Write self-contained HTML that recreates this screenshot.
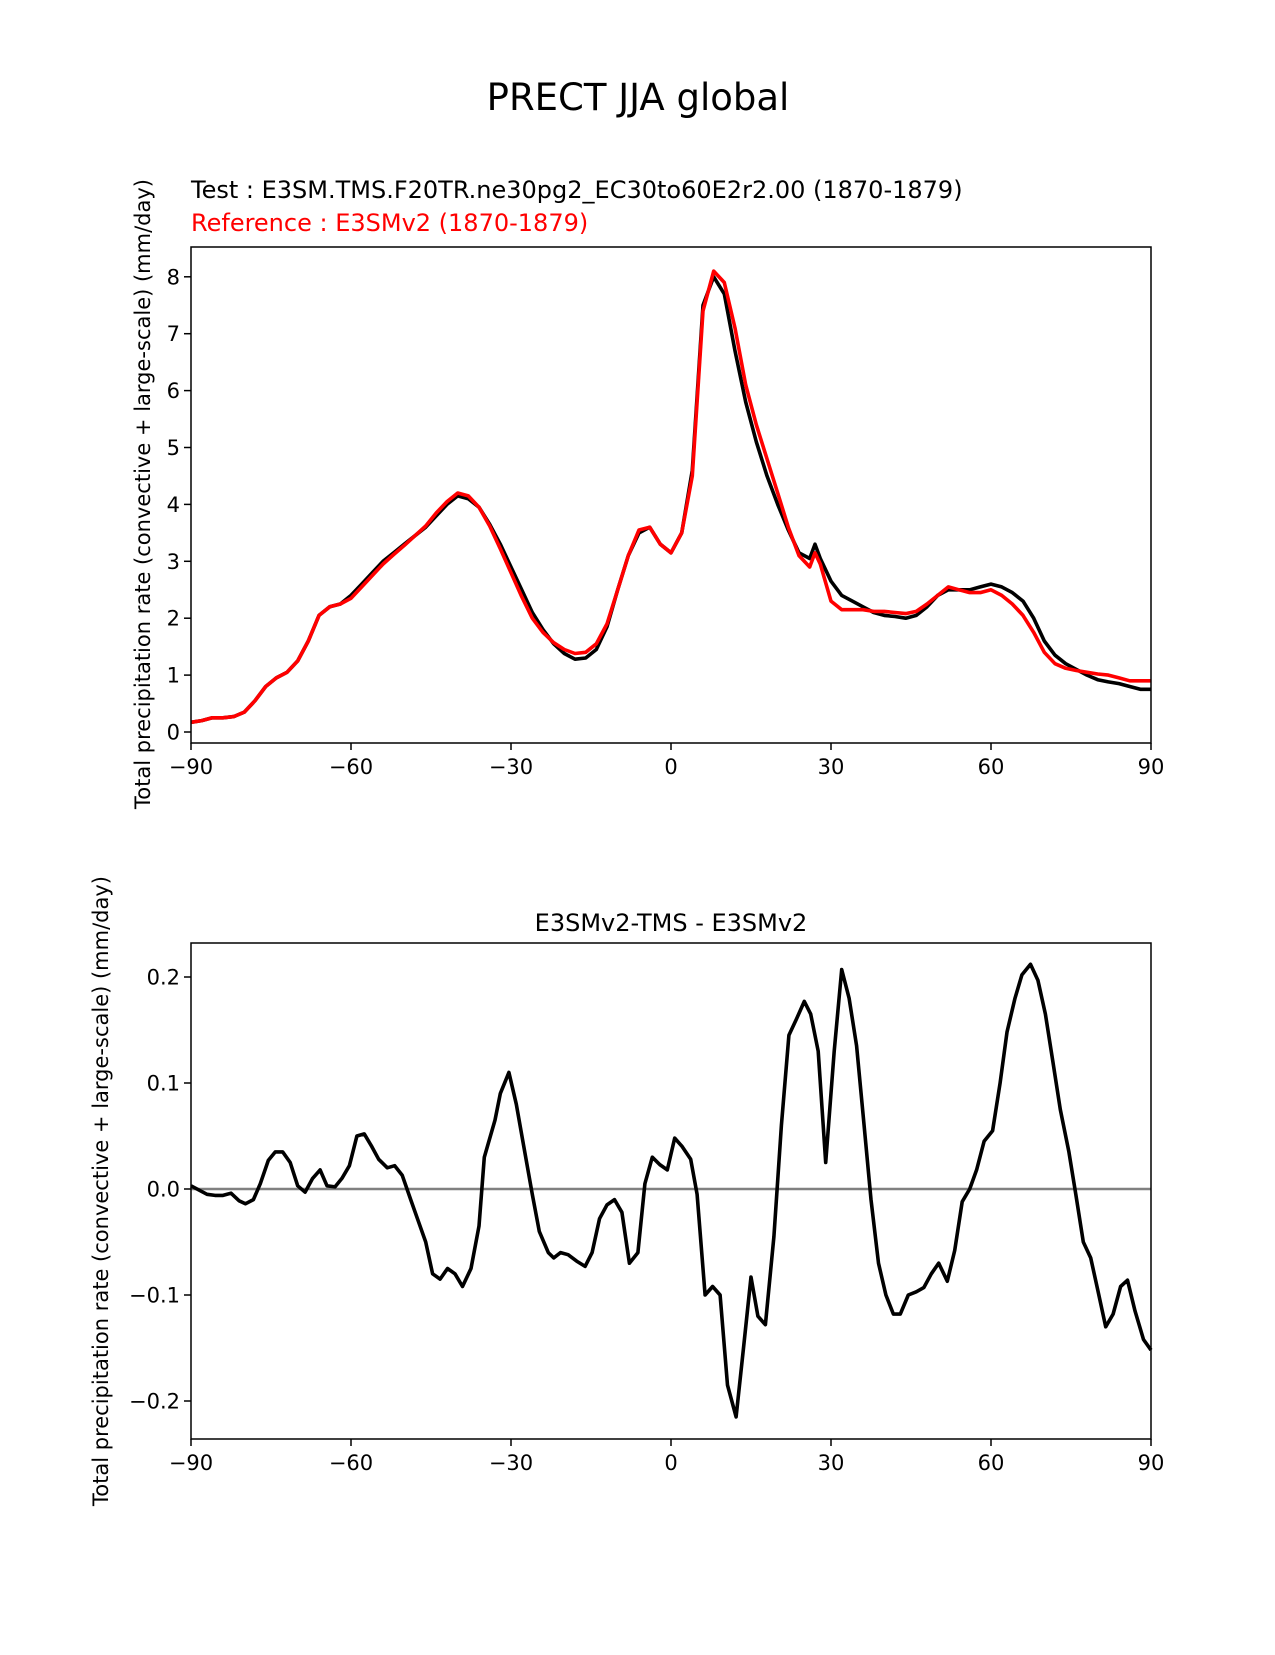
<!DOCTYPE html>
<html><head><meta charset="utf-8"><style>
body{margin:0;background:#fff}
svg text{font-family:"DejaVu Sans","Liberation Sans",sans-serif}
</style></head><body>
<svg id="fig" width="1275" height="1650" xmlns="http://www.w3.org/2000/svg">
<rect width="1275" height="1650" fill="#fff"/>
<text x="638" y="110" font-size="37" text-anchor="middle">PRECT JJA global</text>
<text x="191" y="198" font-size="24">Test : E3SM.TMS.F20TR.ne30pg2_EC30to60E2r2.00 (1870-1879)</text>
<text x="191" y="231" font-size="24" fill="red">Reference : E3SMv2 (1870-1879)</text>
<text transform="translate(150,494) rotate(-90)" font-size="21" text-anchor="middle">Total precipitation rate (convective + large-scale) (mm/day)</text>
<text x="671" y="931" font-size="24" text-anchor="middle">E3SMv2-TMS - E3SMv2</text>
<text transform="translate(108,1191) rotate(-90)" font-size="21" text-anchor="middle">Total precipitation rate (convective + large-scale) (mm/day)</text>
<g id="top"></g>
<g id="bot"></g>
</svg>
<script>
const xTicks=[-90,-60,-30,0,30,60,90];
const topYTicks=[0,1,2,3,4,5,6,7,8];
const botYTicks=[-0.2,-0.1,0.0,0.1,0.2];
const botYTickLabels=["\u22120.2","\u22120.1","0.0","0.1","0.2"];
const topLat=[-90,-88,-86,-84,-82,-80,-78,-76,-74,-72,-70,-68,-66,-64,-62,-60,-58,-56,-54,-52,-50,-48,-46,-44,-42,-40,-38,-36,-34,-32,-30,-28,-26,-24,-22,-20,-18,-16,-14,-12,-10,-8,-6,-4,-2,0,2,4,6,8,10,12,14,16,18,20,22,24,26,27,28,30,32,34,36,38,40,42,44,46,48,50,52,54,56,58,60,62,64,66,68,70,72,74,76,78,80,82,84,86,88,90];
const testVals=[0.17,0.2,0.25,0.25,0.27,0.35,0.55,0.8,0.95,1.05,1.25,1.6,2.05,2.2,2.25,2.4,2.6,2.8,3.0,3.15,3.3,3.45,3.6,3.8,4.0,4.15,4.1,3.95,3.65,3.3,2.9,2.5,2.1,1.8,1.55,1.38,1.28,1.3,1.45,1.85,2.5,3.1,3.5,3.6,3.3,3.15,3.5,4.6,7.5,8.0,7.7,6.7,5.8,5.1,4.5,4.0,3.55,3.15,3.05,3.3,3.05,2.65,2.4,2.3,2.2,2.1,2.05,2.03,2.0,2.05,2.2,2.4,2.5,2.5,2.5,2.55,2.6,2.55,2.45,2.3,2.0,1.6,1.35,1.2,1.1,1.0,0.92,0.88,0.85,0.8,0.75,0.75];
const refVals=[0.17,0.2,0.25,0.25,0.27,0.35,0.55,0.8,0.95,1.05,1.25,1.6,2.05,2.2,2.25,2.35,2.55,2.75,2.95,3.12,3.28,3.45,3.62,3.85,4.05,4.2,4.15,3.95,3.62,3.22,2.8,2.38,2.0,1.75,1.57,1.45,1.38,1.4,1.55,1.9,2.5,3.1,3.55,3.6,3.3,3.15,3.5,4.5,7.4,8.1,7.9,7.1,6.1,5.4,4.8,4.2,3.6,3.1,2.9,3.15,2.95,2.3,2.15,2.15,2.15,2.12,2.12,2.1,2.08,2.12,2.25,2.4,2.55,2.5,2.45,2.45,2.5,2.4,2.25,2.05,1.75,1.4,1.2,1.12,1.08,1.05,1.02,1.0,0.95,0.9,0.9,0.9];
const diffLat=[-90,-88.5,-87,-85.5,-84,-82.5,-81,-79.8,-78.3,-77,-75.5,-74.2,-72.8,-71.4,-70,-68.6,-67.2,-65.8,-64.5,-63,-61.7,-60.3,-58.9,-57.5,-56.1,-54.8,-53.2,-51.8,-50.4,-48.8,-47.4,-46,-44.7,-43.3,-41.9,-40.5,-39.1,-37.5,-36,-35,-33,-32,-30.4,-29,-27.6,-26,-24.7,-23,-22,-20.7,-19.3,-17.7,-16.1,-14.8,-13.4,-12,-10.6,-9.2,-7.8,-6.2,-4.9,-3.5,-2.1,-0.7,0.7,2.1,3.7,4.9,6.4,7.8,9.2,10.6,12.2,13.6,15,16.3,17.7,19.3,20.7,22.1,23.5,25,26.2,27.6,29,30.6,32,33.4,34.8,36.2,37.5,38.9,40.3,41.7,43,44.5,46,47.4,48.8,50.2,51.8,53.2,54.6,56,57.3,58.7,60.3,61.7,63,64.5,65.8,67.4,68.8,70.2,71.6,73,74.6,75.9,77.3,78.7,80,81.5,82.9,84.3,85.6,87,88.6,90];
const diffVals=[0.003,-0.001,-0.005,-0.006,-0.006,-0.004,-0.011,-0.014,-0.01,0.005,0.027,0.035,0.035,0.025,0.003,-0.003,0.01,0.018,0.003,0.002,0.01,0.022,0.05,0.052,0.04,0.028,0.02,0.022,0.013,-0.01,-0.03,-0.05,-0.08,-0.085,-0.075,-0.08,-0.092,-0.075,-0.035,0.03,0.065,0.09,0.11,0.08,0.04,-0.005,-0.04,-0.06,-0.065,-0.06,-0.062,-0.068,-0.073,-0.06,-0.028,-0.015,-0.01,-0.022,-0.07,-0.06,0.005,0.03,0.023,0.018,0.048,0.04,0.028,-0.005,-0.1,-0.092,-0.1,-0.185,-0.215,-0.15,-0.083,-0.12,-0.128,-0.045,0.06,0.145,0.16,0.177,0.165,0.13,0.025,0.13,0.207,0.18,0.135,0.06,-0.01,-0.07,-0.1,-0.118,-0.118,-0.1,-0.097,-0.093,-0.08,-0.07,-0.087,-0.058,-0.012,0.0,0.018,0.045,0.055,0.1,0.148,0.18,0.202,0.212,0.197,0.165,0.12,0.075,0.035,-0.005,-0.05,-0.065,-0.095,-0.13,-0.118,-0.092,-0.086,-0.115,-0.142,-0.152];

const NS="http://www.w3.org/2000/svg";
const X0=191,X1=1151;
const xs=v=>X0+(v+90)/180*(X1-X0);
const topY=v=>732-v*56.9;
const botY=v=>1189-v*1060;
function mk(tag,attrs,parent){const e=document.createElementNS(NS,tag);for(const k in attrs)e.setAttribute(k,attrs[k]);parent.appendChild(e);return e;}
function path(lat,vals,ys){return lat.map((l,i)=>(i?'L':'M')+xs(l).toFixed(1)+','+ys(vals[i]).toFixed(1)).join('');}
function axes(g,top,bot,yTicks,yLabels,ys){
  xTicks.forEach(t=>{
    const l=mk('line',{x1:xs(t),x2:xs(t),y1:bot,y2:bot+7,stroke:'#000','stroke-width':1.5},g);
    
    
    const tx=mk('text',{x:xs(t),y:bot+31,'font-size':21,'text-anchor':'middle'},g);
    tx.textContent=t<0?'\u2212'+(-t):String(t);
    
    
  });
  yTicks.forEach((t,i)=>{
    const l=mk('line',{x1:X0-7,x2:X0,y1:ys(t),y2:ys(t),stroke:'#000','stroke-width':1.5},g);
    
    
    const tx=mk('text',{x:X0-11,y:ys(t)+7.5,'font-size':21,'text-anchor':'end'},g);
    tx.textContent=yLabels[i];
    
    
  });
}
const gt=document.getElementById('top');
axes(gt,247,743,topYTicks,topYTicks.map(String),topY);
const pt=mk('path',{d:path(topLat,testVals,topY),fill:'none',stroke:'#000','stroke-width':3.6,'stroke-linejoin':'round'},gt);


const pr=mk('path',{d:path(topLat,refVals,topY),fill:'none',stroke:'red','stroke-width':3.6,'stroke-linejoin':'round'},gt);


const ft=mk('rect',{x:X0,y:247,width:X1-X0,height:743-247,fill:'none',stroke:'#000','stroke-width':1.5},gt);



const gb=document.getElementById('bot');
axes(gb,943,1439,botYTicks,botYTickLabels,botY);
const z=mk('line',{x1:X0,x2:X1,y1:botY(0),y2:botY(0),stroke:'#808080','stroke-width':2.4},gb);


const pd=mk('path',{d:path(diffLat,diffVals,botY),fill:'none',stroke:'#000','stroke-width':3.6,'stroke-linejoin':'round'},gb);


const fb=mk('rect',{x:X0,y:943,width:X1-X0,height:1439-943,fill:'none',stroke:'#000','stroke-width':1.5},gb);


</script>
</body></html>
